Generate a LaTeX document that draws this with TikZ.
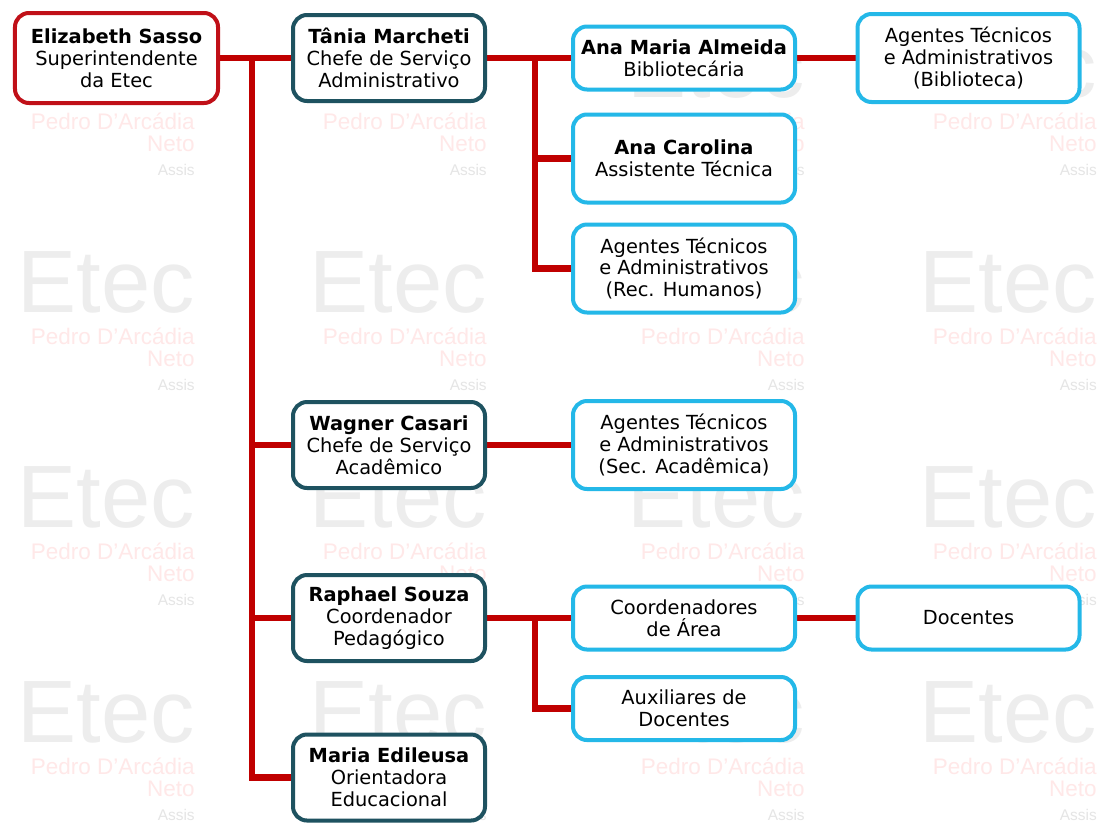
\documentclass[tikz,border=0pt]{standalone}
\usepackage{fontspec}
\setmainfont{DejaVu Sans}
\newfontfamily\wmfont{Liberation Sans}
\usetikzlibrary{backgrounds}
\definecolor{etecred}{RGB}{192,16,24}
\definecolor{linkred}{RGB}{192,0,0}
\definecolor{chiefteal}{RGB}{30,82,96}
\definecolor{staffcyan}{RGB}{36,184,232}

\begin{document}
\begin{tikzpicture}[x=0.25mm, y=-0.25mm, line join=round,
	font={\fontsize{13.8}{15.6}\selectfont},
	box/.style={fill=white, line width=1mm, rounded corners=3.5mm, align=center, inner sep=0pt},
	boss/.style={box, draw=etecred, minimum width=50.75mm, minimum height=22.5mm},
	chief/.style={box, draw=chiefteal, minimum width=48mm, minimum height=21.5mm},
	staff/.style={box, draw=staffcyan, minimum width=55.5mm, minimum height=22mm},
	lowbox/.style={minimum height=15.75mm},
	link/.style={draw=linkred, line width=1.6mm, line cap=rect},
	wmbig/.style={font={\wmfont\fontsize{63}{63}\selectfont}, text=black!7, inner sep=0pt, anchor=base east},
	wmpink/.style={font={\wmfont\fontsize{16}{16}\selectfont}, text=red!9, inner sep=0pt, anchor=base east},
	wmsmall/.style={font={\wmfont\fontsize{11}{11}\selectfont}, text=black!10, inner sep=0pt, anchor=base east}]
	\useasboundingbox (0,0) rectangle (1099,823);
	\begin{scope}[on background layer]
		\fill[white] (0,0) rectangle (1099,823);
		\foreach \wx in {195,487,805,1097}
			\foreach \wy in {97,312,527,742} {
				\node[wmbig] (etec-\wx-\wy) at (\wx,\wy) {Etec};
				\node[wmpink] (pedro-\wx-\wy) at (\wx,\wy+32) {Pedro D’Arcádia};
				\node[wmpink] (neto-\wx-\wy) at (\wx,\wy+54) {Neto};
				\node[wmsmall] (assis-\wx-\wy) at (\wx,\wy+78) {Assis};
			}
	\end{scope}

	\node[boss] (eliz) at (116.5,58) {\textbf{Elizabeth Sasso}\\Superintendente\\da Etec};
	\node[chief] (tania) at (389,58) {\textbf{Tânia Marcheti}\\Chefe de Serviço\\Administrativo};
	\node[chief] (wagner) at (389,445) {\textbf{Wagner Casari}\\Chefe de Serviço\\Acadêmico};
	\node[chief] (raphael) at (389,618) {\textbf{Raphael Souza}\\Coordenador\\Pedagógico};
	\node[chief] (maria) at (389,777.5) {\textbf{Maria Edileusa}\\Orientadora\\Educacional};

	\node[staff, lowbox] (ana) at (684,58) {\textbf{Ana Maria Almeida}\\Bibliotecária};
	\node[staff] (carol) at (684,158.5) {\textbf{Ana Carolina}\\Assistente Técnica};
	\node[staff] (agrh) at (684,268.5) {Agentes Técnicos\\e Administrativos\\(Rec. Humanos)};
	\node[staff] (agsec) at (684,445) {Agentes Técnicos\\e Administrativos\\(Sec. Acadêmica)};
	\node[staff, lowbox] (coord) at (684,618) {Coordenadores\\de Área};
	\node[staff, lowbox] (aux) at (684,708.5) {Auxiliares de\\Docentes};
	\node[staff] (agbib) at (968.5,58) {Agentes Técnicos\\e Administrativos\\(Biblioteca)};
	\node[staff, lowbox] (doc) at (968.5,618) {Docentes};

	\coordinate (trunk) at (252,0);
	\coordinate (subtrunk) at (535,0);
	\begin{scope}[on background layer]
		\draw[link] (eliz) -- (tania);
		\draw[link] (trunk |- eliz) -- (trunk |- maria);
		\foreach \n in {wagner, raphael, maria}
			\draw[link] (trunk |- \n) -- (\n);
		\draw[link] (tania) -- (ana);
		\draw[link] (ana) -- (agbib);
		\draw[link] (subtrunk |- tania) -- (subtrunk |- agrh);
		\foreach \n in {carol, agrh}
			\draw[link] (subtrunk |- \n) -- (\n);
		\draw[link] (wagner) -- (agsec);
		\draw[link] (raphael) -- (coord);
		\draw[link] (coord) -- (doc);
		\draw[link] (subtrunk |- raphael) -- (subtrunk |- aux) -- (aux);
	\end{scope}
\end{tikzpicture}
\end{document}
